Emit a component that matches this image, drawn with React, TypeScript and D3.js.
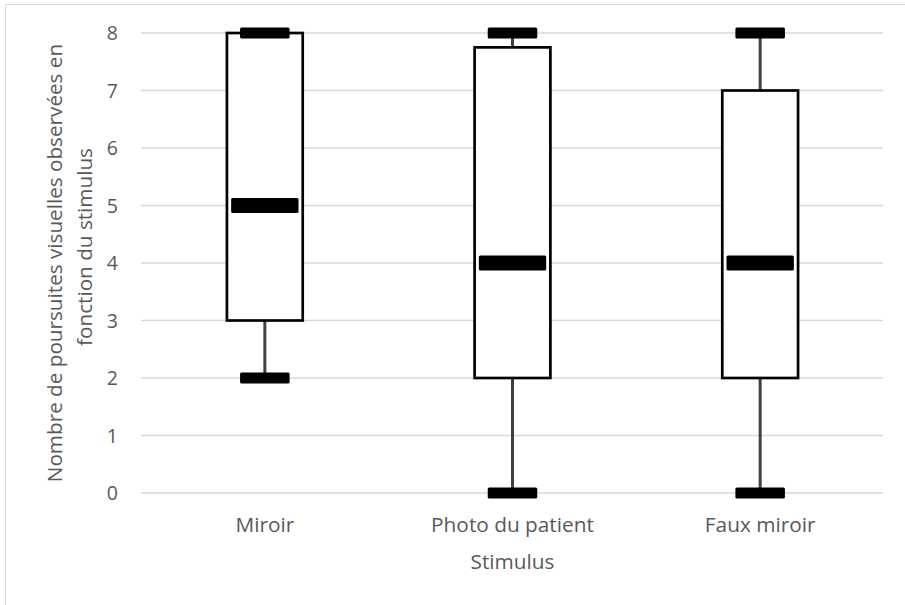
import React, { Component } from 'react'
import * as d3 from 'd3'

const categories = ['Miroir', 'Photo du patient', 'Faux miroir']
const mins = [2, 0, 0]
const q1s = [3, 2, 2]
const medians = [5, 4, 4]
const q3s = [8, 7.75, 7]
const maxs = [8, 8, 8]
const yTicks = [0, 1, 2, 3, 4, 5, 6, 7, 8]

const yTitle1 = 'Nombre de poursuites visuelles observées en'
const yTitle2 = 'fonction du stimulus'
const xTitle = 'Stimulus'

class BoxChart extends Component {

  componentDidMount() {
    const W = 905, H = 605
    this.margin = {top: 33, right: 21, bottom: 112, left: 141}
    const m = this.margin
    const svg = d3.select('#box-chart')

    // outer frame, runs off the page on the right and bottom like the source
    svg.append('rect')
      .attr('x', 5.5).attr('y', 4.5)
      .attr('width', W + 20).attr('height', H + 20)
      .attr('fill', '#fff')
      .attr('stroke', '#d9d9d9')
      .attr('stroke-width', 1)

    const x = d3.scaleBand().domain(categories).range([m.left, W - m.right])
    const y = d3.scaleLinear().domain([0, 8]).range([H - m.bottom, m.top])
    const bw = x.bandwidth()

    //grid
    svg.selectAll('.grid')
      .data(yTicks)
      .enter()
      .append('line')
      .attr('class', 'grid')
      .attr('x1', m.left)
      .attr('x2', W - m.right - 1)
      .attr('y1', d => y(d))
      .attr('y2', d => y(d))
      .attr('stroke', '#d9d9d9')
      .attr('stroke-width', 1.5)

    //tick labels
    svg.selectAll('.ytick')
      .data(yTicks)
      .enter()
      .append('text')
      .attr('class', 'ytick')
      .attr('x', 118)
      .attr('y', d => y(d))
      .attr('dy', '0.36em')
      .attr('text-anchor', 'end')
      .attr('font-size', 19.5)
      .attr('fill', '#595959')
      .text(d => d)

    svg.selectAll('.xtick')
      .data(categories)
      .enter()
      .append('text')
      .attr('class', 'xtick')
      .attr('x', d => x(d) + bw / 2)
      .attr('y', 532)
      .attr('text-anchor', 'middle')
      .attr('font-size', 20.8)
      .attr('fill', '#595959')
      .text(d => d)

    const data = categories.map((c, i) => ({
      c, min: mins[i], q1: q1s[i], med: medians[i], q3: q3s[i], max: maxs[i]
    }))
    const cx = d => x(d.c) + bw / 2

    //whiskers
    const g = svg.append('g')
    data.forEach(d => {
      g.append('line')
        .attr('x1', cx(d)).attr('x2', cx(d))
        .attr('y1', y(d.max)).attr('y2', y(d.q3))
        .attr('stroke', '#404040').attr('stroke-width', 3)
      g.append('line')
        .attr('x1', cx(d)).attr('x2', cx(d))
        .attr('y1', y(d.q1)).attr('y2', y(d.min))
        .attr('stroke', '#404040').attr('stroke-width', 3)
    })

    //boxes
    const boxW = bw * 0.306
    g.selectAll('.box')
      .data(data)
      .enter()
      .append('rect')
      .attr('class', 'box')
      .attr('x', d => cx(d) - boxW / 2)
      .attr('y', d => y(d.q3))
      .attr('width', boxW)
      .attr('height', d => y(d.q1) - y(d.q3))
      .attr('fill', '#fff')
      .attr('stroke', '#000')
      .attr('stroke-width', 2.7)

    //caps
    const capW = bw * 0.2, capH = 11
    const caps = data.flatMap(d => [{d, v: d.min}, {d, v: d.max}])
    g.selectAll('.cap')
      .data(caps)
      .enter()
      .append('rect')
      .attr('class', 'cap')
      .attr('x', e => cx(e.d) - capW / 2)
      .attr('y', e => y(e.v) - capH / 2)
      .attr('width', capW)
      .attr('height', capH)
      .attr('rx', 1.5)
      .attr('fill', '#000')

    //medians
    const medW = bw * 0.272, medH = 15
    g.selectAll('.median')
      .data(data)
      .enter()
      .append('rect')
      .attr('class', 'median')
      .attr('x', d => cx(d) - medW / 2)
      .attr('y', d => y(d.med) - medH / 2)
      .attr('width', medW)
      .attr('height', medH)
      .attr('rx', 1.5)
      .attr('fill', '#000')

    //axis titles
    svg.append('text')
      .attr('transform', 'translate(62,263) rotate(-90)')
      .attr('text-anchor', 'middle')
      .attr('font-size', 20.7)
      .attr('fill', '#595959')
      .text(yTitle1)
    svg.append('text')
      .attr('transform', 'translate(92,247) rotate(-90)')
      .attr('text-anchor', 'middle')
      .attr('font-size', 20.7)
      .attr('fill', '#595959')
      .text(yTitle2)
    svg.append('text')
      .attr('x', (m.left + W - m.right) / 2)
      .attr('y', 569)
      .attr('text-anchor', 'middle')
      .attr('font-size', 20.8)
      .attr('fill', '#595959')
      .text(xTitle)
  }

  render() {
    return (
      <svg
        id="box-chart"
        width={905}
        height={605}
        style={{position: 'absolute', left: 0, top: 0, fontFamily: '"Open Sans", sans-serif', background: '#fff'}}
      />
    )
  }
}

export default function App() {
  return <BoxChart />
}
